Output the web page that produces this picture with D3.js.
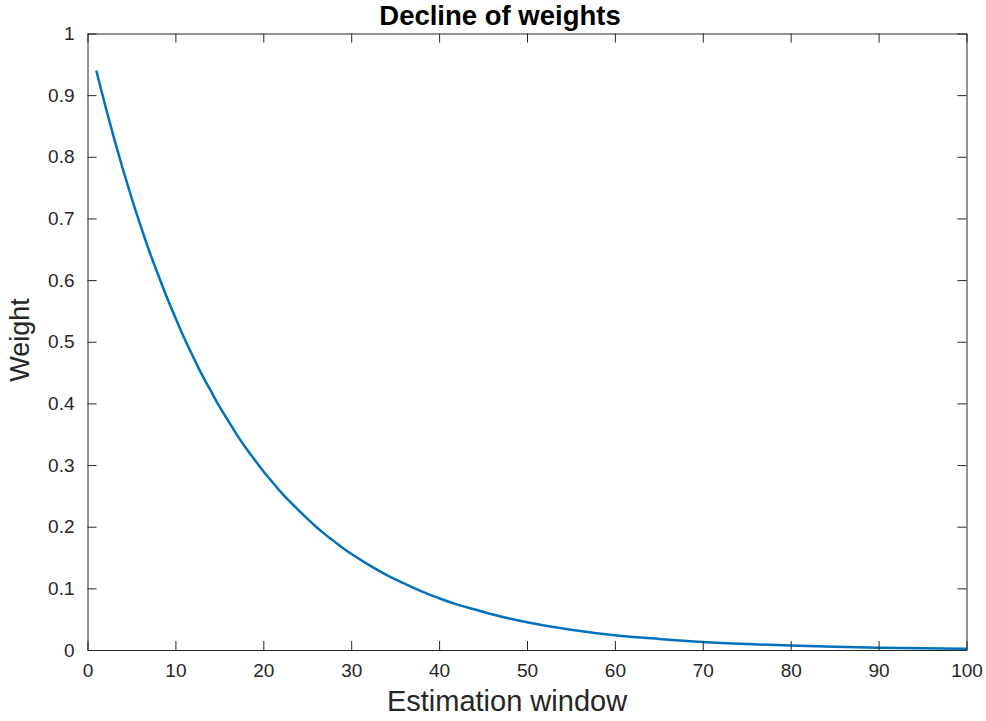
<!DOCTYPE html>
<html>
<head>
<meta charset="utf-8">
<script src="https://cdn.jsdelivr.net/npm/d3@7"></script>
<style>
  body { margin: 0; background: #fff; }
  svg { display: block; font-family: "Liberation Sans", Arial, Helvetica, sans-serif; }
</style>
</head>
<body>
<svg></svg>
<script>
// Data (weight at each point of the estimation window)
const windowPos = [1, 2, 3, 4, 5, 6, 7, 8, 9, 10,
    11, 12, 13, 14, 15, 16, 17, 18, 19, 20,
    21, 22, 23, 24, 25, 26, 27, 28, 29, 30,
    32, 34, 36, 38, 40, 42, 44, 46, 48, 50,
    55, 60, 65, 70, 75, 80, 85, 90, 95, 100];
const weights = [0.940, 0.884, 0.831, 0.781, 0.734, 0.690, 0.648, 0.610, 0.573, 0.539,
    0.506, 0.476, 0.447, 0.421, 0.395, 0.372, 0.349, 0.328, 0.309, 0.290,
    0.273, 0.256, 0.241, 0.227, 0.213, 0.200, 0.188, 0.177, 0.166, 0.156,
    0.138, 0.122, 0.108, 0.095, 0.084, 0.074, 0.066, 0.058, 0.051, 0.045,
    0.033, 0.024, 0.018, 0.013, 0.0096, 0.0071, 0.0052, 0.0038, 0.0028, 0.0021];
const xTicks = [0, 10, 20, 30, 40, 50, 60, 70, 80, 90, 100];
const yTicks = [0, 0.1, 0.2, 0.3, 0.4, 0.5, 0.6, 0.7, 0.8, 0.9, 1];

const width = 986, height = 721;
const svg = d3.select("svg").attr("width", width).attr("height", height);

// Plot area
const margin = {top: 33.5, right: 19.5, bottom: 71, left: 87.5};
const plotW = width - margin.left - margin.right;
const plotH = height - margin.top - margin.bottom;
const axisColor = "#262626";

const g = svg.append("g")
    .attr("transform", `translate(${margin.left},${margin.top})`);

const x = d3.scaleLinear().domain([0, 100]).range([0, plotW]);
const y = d3.scaleLinear().domain([0, 1]).range([plotH, 0]);

// Curve
const data = windowPos.map((p, i) => ({x: p, y: weights[i]}));
g.append("path")
    .datum(data)
    .attr("fill", "none")
    .attr("stroke", "#0072BD")
    .attr("stroke-width", 2.5)
    .attr("d", d3.line()
        .x(d => x(d.x))
        .y(d => y(d.y))
        .curve(d3.curveMonotoneX));

// Axes (MATLAB style: inward ticks, box)
function styleAxis(sel) {
    sel.select(".domain").attr("stroke", axisColor);
    sel.selectAll(".tick line").attr("stroke", axisColor);
    sel.selectAll(".tick text")
        .attr("fill", axisColor)
        .style("font-size", "19px");
}

g.append("g")
    .attr("transform", `translate(0,${plotH})`)
    .call(d3.axisBottom(x).tickValues(xTicks).tickSizeInner(-9).tickSizeOuter(0).tickPadding(14))
    .call(styleAxis);

g.append("g")
    .call(d3.axisTop(x).tickValues(xTicks).tickSizeInner(-9).tickSizeOuter(0).tickFormat(""))
    .call(styleAxis);

g.append("g")
    .call(d3.axisLeft(y).tickValues(yTicks).tickSizeInner(-9).tickSizeOuter(0).tickPadding(13)
        .tickFormat(d => d3.format("")(+d.toFixed(1))))
    .call(styleAxis);

g.append("g")
    .attr("transform", `translate(${plotW},0)`)
    .call(d3.axisRight(y).tickValues(yTicks).tickSizeInner(-9).tickSizeOuter(0).tickFormat(""))
    .call(styleAxis);

// Title and axis labels
svg.append("text")
    .attr("x", 500)
    .attr("y", 25)
    .attr("text-anchor", "middle")
    .attr("fill", "#000")
    .style("font-size", "27.5px")
    .style("font-weight", "bold")
    .text("Decline of weights");

svg.append("text")
    .attr("x", 507)
    .attr("y", 711)
    .attr("text-anchor", "middle")
    .attr("fill", axisColor)
    .style("font-size", "29px")
    .text("Estimation window");

svg.append("text")
    .attr("transform", "rotate(-90)")
    .attr("x", -340)
    .attr("y", 29)
    .attr("text-anchor", "middle")
    .attr("fill", axisColor)
    .style("font-size", "27px")
    .text("Weight");
</script>
</body>
</html>
